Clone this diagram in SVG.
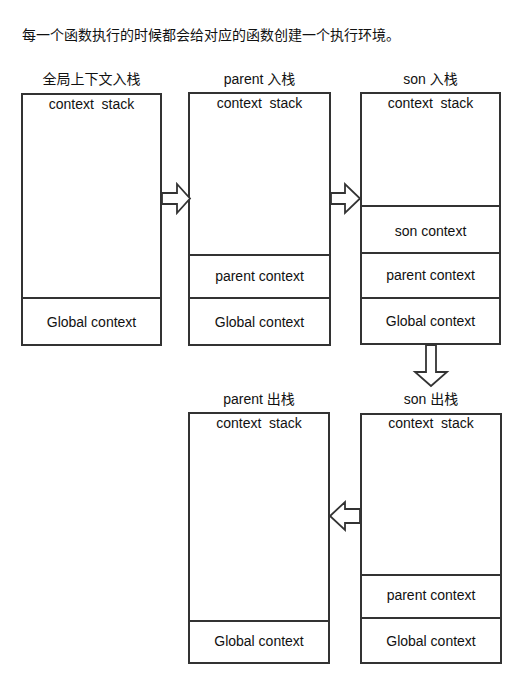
<svg xmlns="http://www.w3.org/2000/svg" width="528" height="683" viewBox="0 0 528 683">
<style>
text{font-family:"Liberation Sans","Noto Sans CJK SC",sans-serif;font-size:14px;fill:#111;}
.c{text-anchor:middle;}
.box{fill:#fff;stroke:#333;stroke-width:2;}
.div{stroke:#333;stroke-width:2;}
.arr{fill:#fff;stroke:#333;stroke-width:1.8;stroke-linejoin:miter;}
</style>
<rect width="528" height="683" fill="#fff"/>
<text x="22" y="40">每一个函数执行的时候都会给对应的函数创建一个执行环境。</text>

<g id="stack1">
<text class="c" x="91.5" y="84">全局上下文入栈</text>
<rect class="box" x="22" y="94" width="139" height="251"/>
<line class="div" x1="22" y1="298" x2="161" y2="298"/>
<text class="c" x="91.5" y="109" xml:space="preserve">context  stack</text>
<text class="c" x="91.5" y="327">Global context</text>
</g>

<g id="stack2">
<text class="c" x="259.5" y="84">parent 入栈</text>
<rect class="box" x="189" y="93" width="141" height="252"/>
<line class="div" x1="189" y1="255" x2="330" y2="255"/>
<line class="div" x1="189" y1="298" x2="330" y2="298"/>
<text class="c" x="259.5" y="108" xml:space="preserve">context  stack</text>
<text class="c" x="259.5" y="281">parent context</text>
<text class="c" x="259.5" y="327">Global context</text>
</g>

<g id="stack3">
<text class="c" x="430.5" y="84">son 入栈</text>
<rect class="box" x="361" y="93" width="139" height="251"/>
<line class="div" x1="361" y1="206" x2="500" y2="206"/>
<line class="div" x1="361" y1="253" x2="500" y2="253"/>
<line class="div" x1="361" y1="298" x2="500" y2="298"/>
<text class="c" x="430.5" y="108" xml:space="preserve">context  stack</text>
<text class="c" x="430.5" y="236">son context</text>
<text class="c" x="430.5" y="280">parent context</text>
<text class="c" x="430.5" y="326">Global context</text>
</g>

<g id="stack4">
<text class="c" x="259" y="404">parent 出栈</text>
<rect class="box" x="189" y="413" width="140" height="250"/>
<line class="div" x1="189" y1="621" x2="329" y2="621"/>
<text class="c" x="259" y="428" xml:space="preserve">context  stack</text>
<text class="c" x="259" y="646">Global context</text>
</g>

<g id="stack5">
<text class="c" x="431" y="404">son 出栈</text>
<rect class="box" x="361" y="414" width="140" height="249"/>
<line class="div" x1="361" y1="575" x2="501" y2="575"/>
<line class="div" x1="361" y1="618" x2="501" y2="618"/>
<text class="c" x="431" y="428" xml:space="preserve">context  stack</text>
<text class="c" x="431" y="600">parent context</text>
<text class="c" x="431" y="646">Global context</text>
</g>

<g id="connectors">
<polygon class="arr" points="162,193 177,193 177,184 190,198.5 177,213 177,204 162,204"/>
<polygon class="arr" points="331,193 345,193 345,184 360,198.5 345,213 345,204 331,204"/>
<polygon class="arr" points="426,345 436,345 436,372 447,372 431,386 415,372 426,372"/>
<polygon class="arr" points="360,509 345,509 345,502 330,516 345,530 345,523 360,523"/>
</g>
</svg>
